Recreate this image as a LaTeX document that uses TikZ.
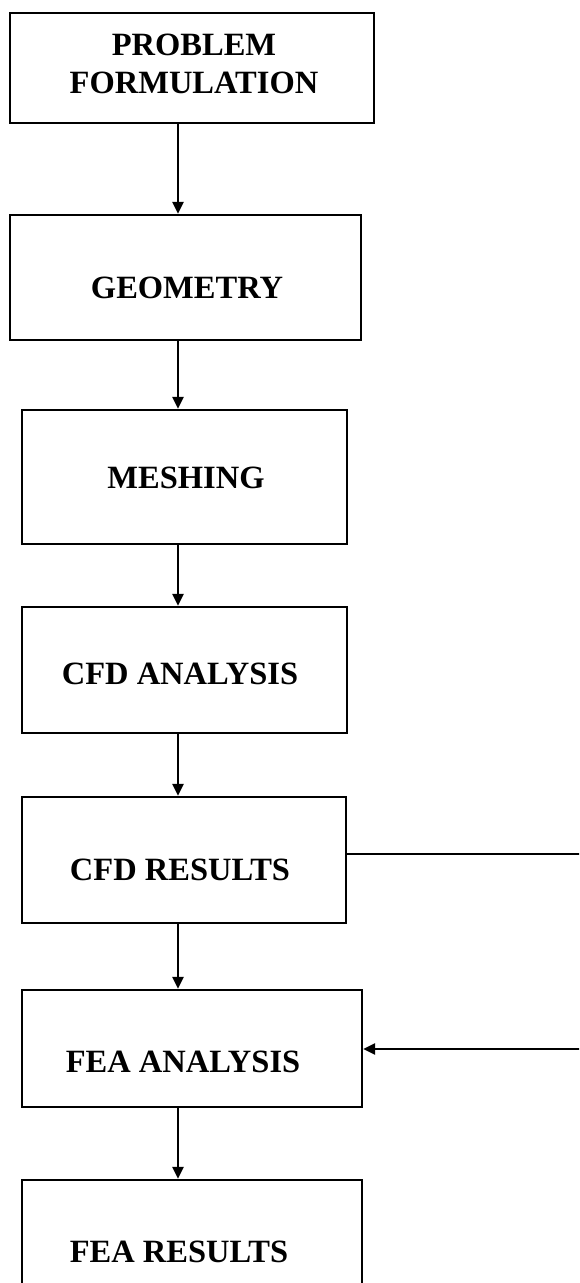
\documentclass[tikz,border=0pt]{standalone}
\usepackage{fontspec}
\setmainfont{Liberation Serif}
\usetikzlibrary{arrows.meta,fit}
\begin{document}
\begin{tikzpicture}[x=1pt,y=-1pt,
  box/.style={draw=black,line width=2.3pt,inner sep=0pt,rectangle},
  lbl/.style={font=\fontsize{32.5}{38}\selectfont\bfseries,inner sep=0pt,align=center},
  flow/.style={line width=2.3pt,-{Triangle[length=12pt,width=11pt]}},
  link/.style={line width=2.3pt}]
\useasboundingbox (0,0) rectangle (579,1283);
\clip (0,0) rectangle (579,1283);
\node[box,fit={(10,13) (374,123)}] (b1) {};
\node[box,fit={(10,215) (361,340)}] (b2) {};
\node[box,fit={(22,410) (347,544)}] (b3) {};
\node[box,fit={(22,607) (347,733)}] (b4) {};
\node[box,fit={(22,797) (346,923)}] (b5) {};
\node[box,fit={(22,990) (362,1107)}] (b6) {};
\node[box,fit={(22,1180) (362,1300)}] (b7) {};
\node[lbl,anchor=center] (t1) at (194,64) {PROBLEM\\FORMULATION};
\node[lbl,anchor=base] (t2) at (187,298) {GEOMETRY};
\node[lbl,anchor=base] (t3) at (186,488) {MESHING};
\node[lbl,anchor=base] (t4) at (180,684) {CFD ANALYSIS};
\node[lbl,anchor=base] (t5) at (180,880) {CFD RESULTS};
\node[lbl,anchor=base] (t6) at (183,1072) {FEA ANALYSIS};
\node[lbl,anchor=base] (t7) at (179,1262) {FEA RESULTS};
\coordinate (r1) at (600,854);
\coordinate (r2) at (600,1049);
\draw[flow] (b1.south -| 178,0) -- (b2.north -| 178,0);
\draw[flow] (b2.south -| 178,0) -- (b3.north -| 178,0);
\draw[flow] (b3.south -| 178,0) -- (b4.north -| 178,0);
\draw[flow] (b4.south -| 178,0) -- (b5.north -| 178,0);
\draw[flow] (b5.south -| 178,0) -- (b6.north -| 178,0);
\draw[flow] (b6.south -| 178,0) -- (b7.north -| 178,0);
\draw[link] (b5.east |- r1) -- (r1) -- (r2);
\draw[flow] (r2) -- (b6.east |- r2);
\end{tikzpicture}
\end{document}
